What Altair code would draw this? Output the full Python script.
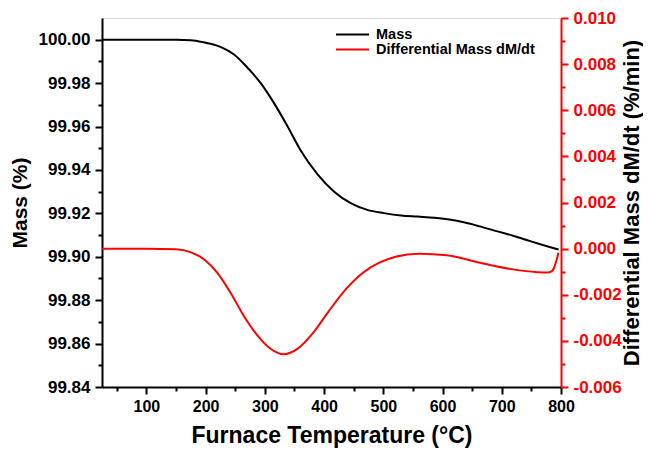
import altair as alt
import pandas as pd

# ---- data ----
temp_mass = [25, 100, 150, 175, 197, 225, 248, 270, 293, 315, 338, 360, 389, 417, 445,
             473, 501, 530, 558, 586, 614, 636, 663, 691, 720, 748, 772, 796]
mass = [100.0, 100.0, 100.0, 99.9998, 99.9988, 99.9967, 99.9932, 99.9873, 99.9800,
        99.9710, 99.9602, 99.9492, 99.9380, 99.9300, 99.9247, 99.9216, 99.9201,
        99.9190, 99.9185, 99.9180, 99.9171, 99.9159, 99.9140, 99.9118, 99.9096,
        99.9072, 99.9052, 99.9033]

temp_dmdt = [25, 100, 150, 174, 197, 219.5, 242, 264.5, 287, 310, 332, 355, 380, 408,
             436.5, 465, 493, 521, 560, 607, 663, 719, 760, 777, 784, 788, 791, 794, 795.5]
dmdt = [0.0, 0.0, -0.00003, -0.00015, -0.00046, -0.00104, -0.00191, -0.00292, -0.00375,
        -0.00435, -0.00458, -0.00435, -0.00370, -0.00271, -0.00177, -0.00106, -0.00061,
        -0.00035, -0.00022, -0.00029, -0.00061, -0.00090, -0.00102, -0.00104, -0.00099,
        -0.00085, -0.00062, -0.00035, -0.00018]

series_names = ["Mass", "Differential Mass dM/dt"]
series_colors = ["black", "red"]

x_major = [100, 200, 300, 400, 500, 600, 700, 800]
x_minor = [50, 150, 250, 350, 450, 550, 650, 750]
mass_major = [99.84, 99.86, 99.88, 99.90, 99.92, 99.94, 99.96, 99.98, 100.00]
mass_minor = [99.85, 99.87, 99.89, 99.91, 99.93, 99.95, 99.97, 99.99]
d_major = [-0.006, -0.004, -0.002, 0.0, 0.002, 0.004, 0.006, 0.008, 0.010]
d_minor = [-0.005, -0.003, -0.001, 0.001, 0.003, 0.005, 0.007, 0.009]

x_domain = [25, 800]
mass_domain = [99.84, 100.01]
d_domain = [-0.006, 0.010]

FONT = "Liberation Sans"

mass_df = pd.DataFrame({"T": temp_mass, "v": mass, "series": series_names[0]})
d_df = pd.DataFrame({"T": temp_dmdt, "v": dmdt, "series": series_names[1]})


def make_legend(y):
    return alt.Legend(
        title=None, orient="none", legendX=233, legendY=y, padding=0,
        symbolType="stroke", symbolSize=1089, symbolStrokeWidth=2,
        labelFont=FONT, labelFontWeight="bold", labelFontSize=14.5, labelColor="black",
        labelOffset=6, labelLimit=400,
    )


mass_color = alt.Color("series:N", scale=alt.Scale(domain=series_names[:1], range=series_colors[:1]),
                       legend=make_legend(-1))
d_color = alt.Color("series:N", scale=alt.Scale(domain=series_names[1:], range=series_colors[1:]),
                    legend=make_legend(14))

xs = alt.Scale(domain=x_domain, nice=False, zero=False)

x_axis_major = alt.Axis(
    values=x_major, orient="bottom", title="Furnace Temperature (°C)", grid=False,
    tickSize=7, tickWidth=2, tickColor="black", domainColor="black", domainWidth=2,
    labelFont=FONT, labelFontWeight="bold", labelFontSize=16, labelColor="black",
    labelPadding=4, labelFlush=False, labelOverlap=False,
    titleFont=FONT, titleFontWeight="bold", titleFontSize=23,
    titleColor="black", titlePadding=10,
)
x_axis_minor = alt.Axis(values=x_minor, orient="bottom", title=None, grid=False,
                        labels=False, domain=False, tickSize=4, tickWidth=2,
                        tickColor="black")

y_axis_mass = alt.Axis(
    values=mass_major, orient="left", title="Mass (%)", grid=False, format=".2f",
    tickSize=7, tickWidth=2, tickColor="black", domainColor="black", domainWidth=2,
    labelFont=FONT, labelFontWeight="bold", labelFontSize=17, labelColor="black",
    labelPadding=5, labelFlush=False, titleFont=FONT, titleFontWeight="bold", titleFontSize=21,
    titleColor="black", titlePadding=8,
)
y_axis_mass_minor = alt.Axis(values=mass_minor, orient="left", title=None, grid=False,
                             labels=False, domain=False, tickSize=4, tickWidth=2,
                             tickColor="black")

y_axis_d = alt.Axis(
    values=d_major, orient="right", title="Differential Mass dM/dt (%/min)", grid=False,
    labelExpr="(datum.value < -1e-9 ? '-' : '') + format(abs(datum.value), '.3f')",
    tickSize=7, tickWidth=2, tickColor="red", domainColor="red", domainWidth=2,
    labelFont=FONT, labelFontWeight="bold", labelFontSize=17, labelColor="red",
    labelPadding=5, labelFlush=False, titleFont=FONT, titleFontWeight="bold", titleFontSize=22,
    titleColor="black", titlePadding=0, titleAngle=270, titleBaseline="top",
)
y_axis_d_minor = alt.Axis(values=d_minor, orient="right", title=None, grid=False,
                          labels=False, domain=False, tickSize=4, tickWidth=2,
                          tickColor="red")

mass_line = alt.Chart(mass_df).mark_line(strokeWidth=2, interpolate="monotone").encode(
    x=alt.X("T:Q", scale=xs, axis=x_axis_major),
    y=alt.Y("v:Q", scale=alt.Scale(domain=mass_domain, nice=False, zero=False), axis=y_axis_mass),
    color=mass_color,
)
d_line = alt.Chart(d_df).mark_line(strokeWidth=2, interpolate="monotone").encode(
    x=alt.X("T:Q", scale=xs, axis=None),
    y=alt.Y("v:Q", scale=alt.Scale(domain=d_domain, nice=False, zero=False), axis=y_axis_d),
    color=d_color,
)
mass_minor_layer = alt.Chart(mass_df).mark_line(opacity=0).encode(
    x=alt.X("T:Q", scale=xs, axis=x_axis_minor),
    y=alt.Y("v:Q", scale=alt.Scale(domain=mass_domain, nice=False, zero=False), axis=y_axis_mass_minor),
)
d_minor_layer = alt.Chart(d_df).mark_line(opacity=0).encode(
    x=alt.X("T:Q", scale=xs, axis=None),
    y=alt.Y("v:Q", scale=alt.Scale(domain=d_domain, nice=False, zero=False), axis=y_axis_d_minor),
)

chart = alt.layer(mass_line, d_line, mass_minor_layer, d_minor_layer).resolve_scale(
    x="independent", y="independent", color="independent"
).properties(
    width=459, height=369,
    autosize=alt.AutoSizeParams(type="none"),
    padding={"left": 94, "top": 10, "right": 82, "bottom": 65},
).configure_view(stroke="black", strokeWidth=2).configure(background="white")

chart.save("out.html", embed_options={"renderer": "svg", "actions": False})
